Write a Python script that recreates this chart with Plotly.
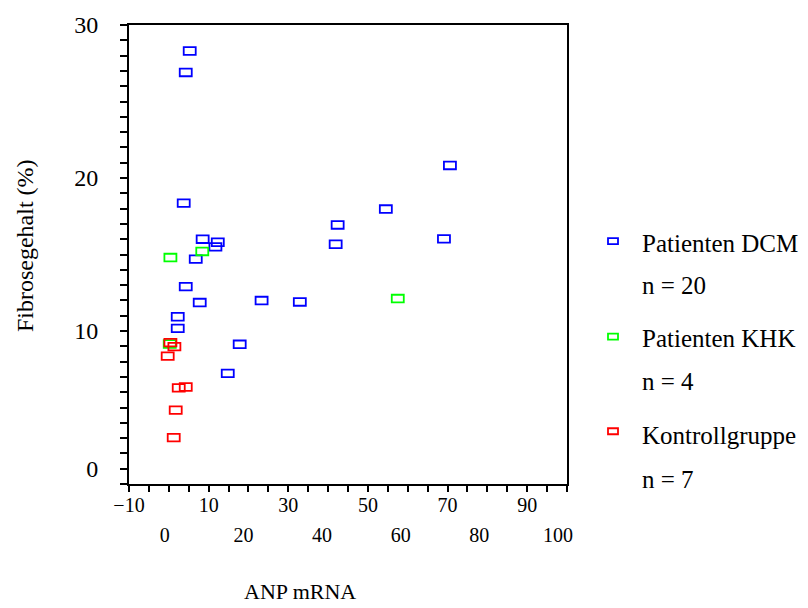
import plotly.graph_objects as go

# ---------------- data ----------------
dcm_x = [5.25, 4.25, 3.74, 8.5, 12.3, 11.7, 6.76, 4.25, 7.76, 23.3,
         2.24, 2.24, 17.8, 14.8, 70.6, 54.5, 42.4, 41.9, 69.1, 32.9]
dcm_y = [28.3, 26.9, 18.36, 16.0, 15.8, 15.5, 14.7, 12.9, 11.86, 11.99,
         10.93, 10.17, 9.13, 7.23, 20.82, 17.97, 16.93, 15.67, 16.02, 11.9]
khk_x = [0.4, 8.4, 0.23, 57.5]
khk_y = [14.8, 15.2, 9.15, 12.12]
ctl_x = [0.4, 1.4, -0.28, 2.49, 4.25, 1.73, 1.23]
ctl_y = [9.24, 8.98, 8.36, 6.28, 6.34, 4.83, 3.03]

groups = [
    ("Patienten DCM", "n = 20", dcm_x, dcm_y, "#0000FF"),
    ("Patienten KHK", "n = 4", khk_x, khk_y, "#00FF00"),
    ("Kontrollgruppe", "n = 7", ctl_x, ctl_y, "#FF0000"),
]

x_major = [-10, 10, 30, 50, 70, 90]
x_lower = [0, 20, 40, 60, 80, 100]
y_tickvals = [1, 10, 20, 30]
y_ticktext = ["0", "10", "20", "30"]

FONT = "Liberation Serif, Times New Roman, serif"

# plot area geometry (pixels)
L, R, T, B = 129, 567, 23, 484
W, H = 808, 608
pw, ph = R - L, B - T


def px2paper(px, py):
    return (px - L) / pw, (B - py) / ph


fig = go.Figure()
shapes = []
for name, ntext, xs, ys, col in groups:
    fig.add_trace(go.Scatter(x=xs, y=ys, mode="markers", name=name,
                             marker=dict(size=10, color=col, opacity=0),
                             showlegend=False, hoverinfo="x+y+name"))
    for xv, yv in zip(xs, ys):
        shapes.append(dict(type="rect", xref="x", yref="y",
                           xsizemode="pixel", ysizemode="pixel",
                           xanchor=xv, yanchor=yv,
                           x0=-6, x1=6, y0=-3.8, y1=3.8,
                           line=dict(color=col, width=1.8),
                           fillcolor="rgba(0,0,0,0)", layer="above"))

# dummy trace to realise second x axis (lower label row)
fig.add_trace(go.Scatter(x=[None], y=[None], xaxis="x2", showlegend=False,
                         hoverinfo="skip"))

annotations = []
# legend
leg_rows = [(242, 285, 240), (338, 381, 336), (435, 479, 431)]
for (name, ntext, xs, ys, col), (ty, ny, sy) in zip(groups, leg_rows):
    sx, syp = px2paper(613, sy)
    shapes.append(dict(type="rect", xref="paper", yref="paper",
                       xsizemode="pixel", ysizemode="pixel",
                       xanchor=sx, yanchor=syp, x0=-5, x1=5, y0=-3, y1=3,
                       line=dict(color=col, width=1.8),
                       fillcolor="rgba(0,0,0,0)"))
    tx, typ = px2paper(640, ty)
    annotations.append(dict(text=name, xref="paper", yref="paper", x=tx, y=typ,
                            xanchor="left", yanchor="middle", showarrow=False,
                            font=dict(family=FONT, size=25, color="black")))
    tx, nyp = px2paper(640, ny)
    annotations.append(dict(text=ntext, xref="paper", yref="paper", x=tx, y=nyp,
                            xanchor="left", yanchor="middle", showarrow=False,
                            font=dict(family=FONT, size=25, color="black")))

# axis titles
ax, ay = px2paper(25, 245)
annotations.append(dict(text="Fibrosegehalt (%)", xref="paper", yref="paper",
                        x=ax, y=ay, textangle=-90, showarrow=False,
                        xanchor="center", yanchor="middle",
                        font=dict(family=FONT, size=24, color="black")))
bx, by = px2paper(300, 592)
annotations.append(dict(text="ANP mRNA", xref="paper", yref="paper",
                        x=bx, y=by, showarrow=False,
                        xanchor="center", yanchor="middle",
                        font=dict(family=FONT, size=22, color="black")))

fig.update_layout(
    width=W, height=H,
    margin=dict(l=L, r=W - R, t=T, b=H - B, pad=0),
    paper_bgcolor="white", plot_bgcolor="white",
    showlegend=False,
    font=dict(family=FONT, color="black"),
    shapes=shapes, annotations=annotations,
    xaxis=dict(range=[-10, 100], tickmode="array", tickvals=x_major,
               ticks="outside", ticklen=6, tickwidth=2, tickcolor="black",
               minor=dict(tickmode="linear", tick0=-10, dtick=5, ticks="outside",
                          ticklen=6, tickwidth=2, tickcolor="black"),
               showline=True, linewidth=2, linecolor="black", mirror=True,
               showgrid=False, zeroline=False, ticklabelstandoff=-4,
               tickfont=dict(family=FONT, size=20, color="black")),
    xaxis2=dict(range=[-9.1, 102.3], overlaying="x", anchor="y", side="bottom",
                tickmode="array", tickvals=x_lower, ticks="", showline=False,
                showgrid=False, zeroline=False, ticklabelstandoff=37,
                tickfont=dict(family=FONT, size=20, color="black")),
    yaxis=dict(range=[0, 30], tickmode="array", tickvals=y_tickvals,
               ticktext=y_ticktext,
               ticks="outside", ticklen=7, tickwidth=2, tickcolor="black",
               minor=dict(tickmode="linear", tick0=0, dtick=1, ticks="outside",
                          ticklen=7, tickwidth=2, tickcolor="black"),
               showline=True, linewidth=2, linecolor="black", mirror=True,
               showgrid=False, zeroline=False, ticklabelstandoff=17,
               tickfont=dict(family=FONT, size=24, color="black")),
)

fig.write_html("out.html")
